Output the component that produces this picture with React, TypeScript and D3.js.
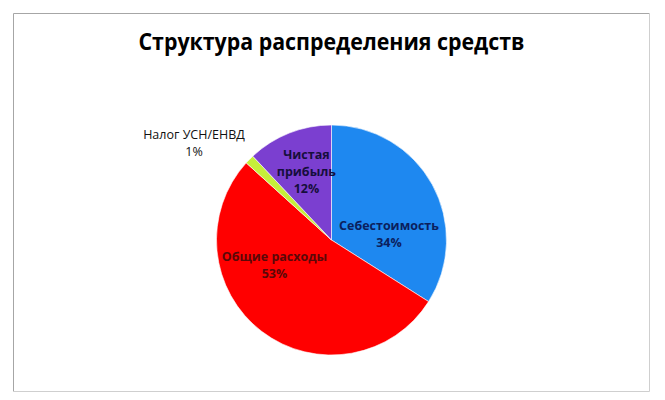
import React, { useEffect, useRef } from 'react';
import * as d3 from 'd3';

const width = 665;
const height = 400;

const title = 'Структура распределения средств';

// slices, clockwise from 12 o'clock
const categories = ['Себестоимость', 'Общие расходы', 'Налог УСН/ЕНВД', 'Чистая прибыль'];
const shares = [34, 52.7, 1.3, 12];
const percentLabels = ['34%', '53%', '1%', '12%'];
const labelLines = [['Себестоимость'], ['Общие расходы'], ['Налог УСН/ЕНВД'], ['Чистая', 'прибыль']];

const sliceColors = ['#1e88f0', '#ff0000', '#c6ef3a', '#7b3fd0'];
const textColors = ['#0b1f5e', '#5a0808', '#111111', '#160e3c'];
const textWeights = ['bold', 'bold', 'normal', 'bold'];
// Excel's best-fit label placement, nudged from the arc centroid
const labelNudge: [number, number][] = [
  [-7, 30],
  [-12.5, -33],
  [-85, -45],
  [2, 0],
];

const frame = { left: 13.5, top: 13.5, right: 649.5, bottom: 391.5 };
const center = { x: 331.5, y: 240 };
const radius = 115;
const lineHeight = 17;

type Slice = { name: string; value: number; index: number };

const App = (): JSX.Element => {
  const container = useRef<SVGSVGElement>(null);

  useEffect(() => {
    const svg = d3.select(container.current);
    svg.selectAll('*').remove();

    svg
      .append('rect')
      .attr('width', width)
      .attr('height', height)
      .attr('fill', '#ffffff');

    // chart frame
    svg
      .append('path')
      .attr('d', `M${frame.left},${frame.bottom} V${frame.top} H${frame.right}`)
      .attr('fill', 'none')
      .attr('stroke', '#a6a6a6');
    svg
      .append('path')
      .attr('d', `M${frame.right},${frame.top} V${frame.bottom} H${frame.left}`)
      .attr('fill', 'none')
      .attr('stroke', '#cfcfcf');

    svg
      .append('text')
      .attr('x', (frame.left + frame.right) / 2)
      .attr('y', 50)
      .attr('text-anchor', 'middle')
      .attr('font-family', '"Open Sans", sans-serif')
      .attr('font-weight', 'bold')
      .attr('font-size', 24)
      .attr('textLength', 386)
      .attr('lengthAdjust', 'spacingAndGlyphs')
      .attr('fill', '#000000')
      .text(title);

    const data: Slice[] = categories.map((name, i) => ({ name, value: shares[i], index: i }));

    const pie = d3
      .pie<Slice>()
      .value((d) => d.value)
      .sort(null);
    const arcs = pie(data);

    const arc = d3
      .arc<d3.PieArcDatum<Slice>>()
      .innerRadius(0)
      .outerRadius(radius);
    const labelArc = d3
      .arc<d3.PieArcDatum<Slice>>()
      .innerRadius(radius * 0.64)
      .outerRadius(radius * 0.64);

    const g = svg.append('g').attr('transform', `translate(${center.x},${center.y})`);

    g.selectAll('path.slice')
      .data(arcs)
      .enter()
      .append('path')
      .attr('class', 'slice')
      .attr('d', arc)
      .attr('fill', (d) => sliceColors[d.data.index])
      .attr('stroke', '#ffffff')
      .attr('stroke-width', 0.6);

    arcs.forEach((d) => {
      const i = d.data.index;
      const [cx, cy] = labelArc.centroid(d);
      const x = cx + labelNudge[i][0];
      const y = cy + labelNudge[i][1];
      const lines = [...labelLines[i], percentLabels[i]];
      const top = y - ((lines.length - 1) * lineHeight) / 2;
      const text = g
        .append('text')
        .attr('text-anchor', 'middle')
        .attr('font-family', '"Open Sans", sans-serif')
        .attr('font-size', 12.5)
        .attr('font-weight', textWeights[i])
        .attr('fill', textColors[i]);
      lines.forEach((line, k) => {
        text
          .append('tspan')
          .attr('x', x)
          .attr('y', top + k * lineHeight)
          .attr('dy', '0.35em')
          .text(line);
      });
    });
  }, []);

  return (
    <svg
      ref={container}
      width={width}
      height={height}
      style={{ position: 'absolute', left: 0, top: 0 }}
    />
  );
};

export default App;
